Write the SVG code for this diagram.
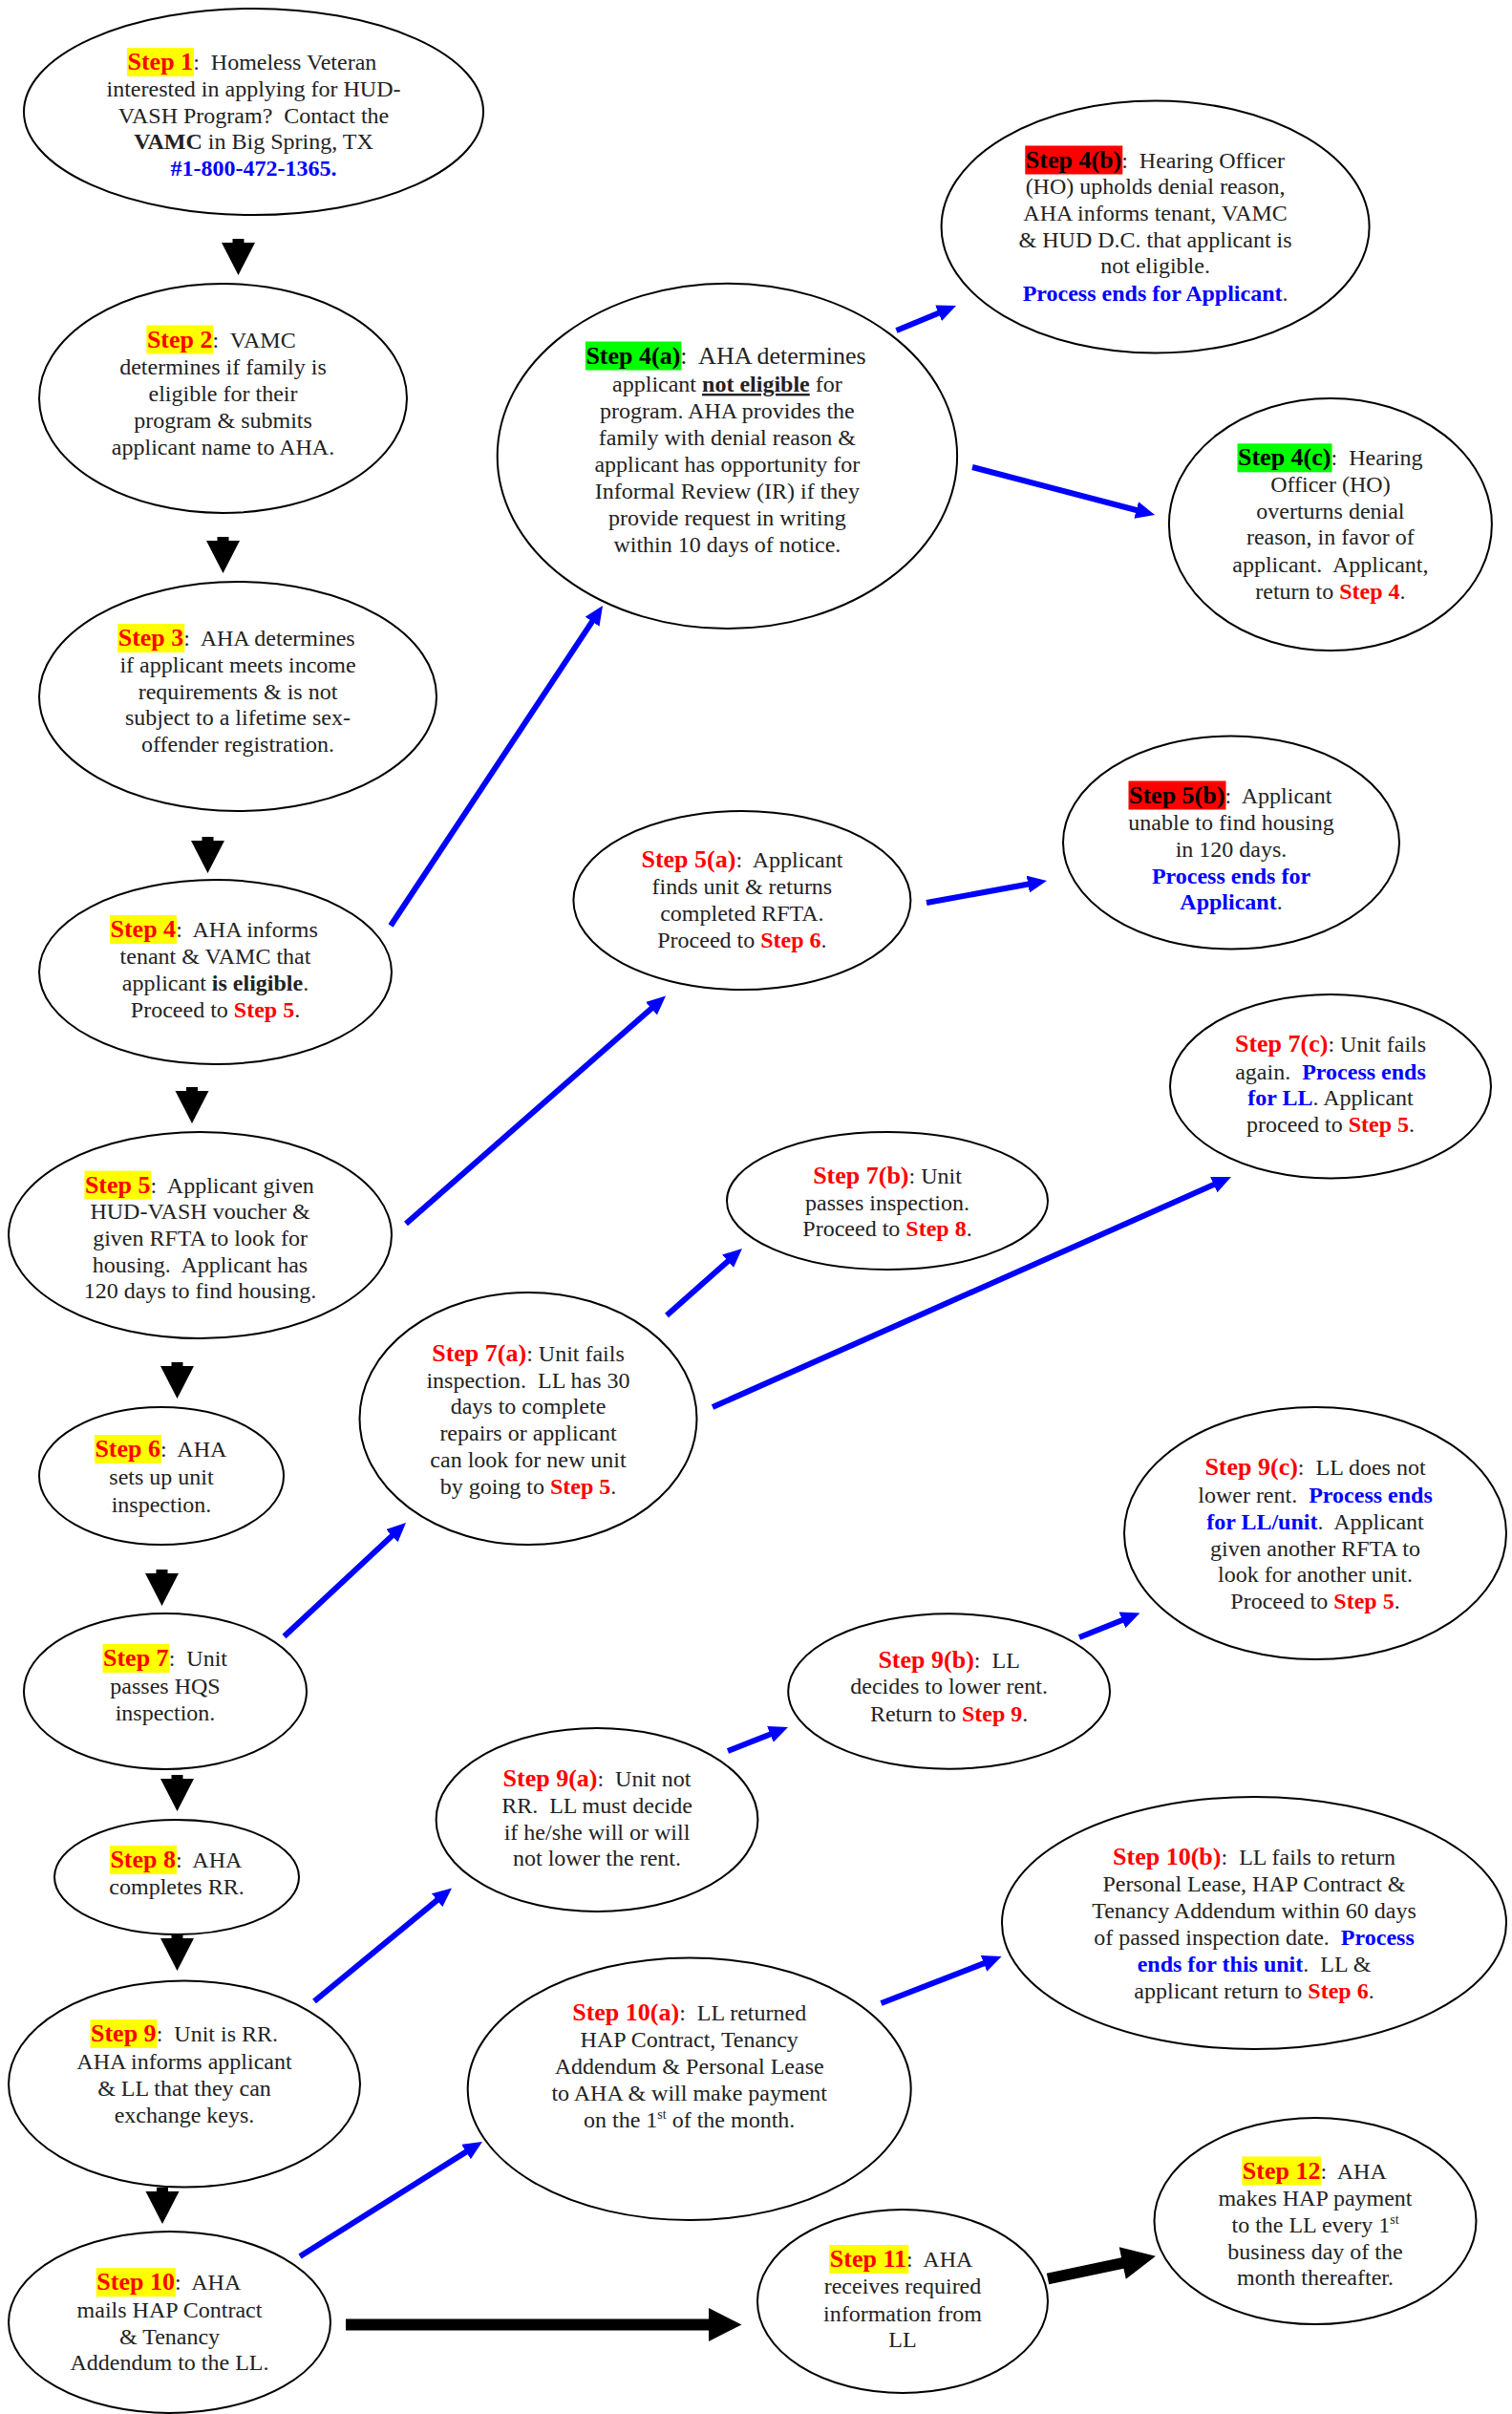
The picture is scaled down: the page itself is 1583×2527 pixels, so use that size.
<svg xmlns="http://www.w3.org/2000/svg" width="1583" height="2527" viewBox="0 0 1583 2527">
<style>
.n ellipse{fill:#fff;stroke:#000;stroke-width:2}
text{font-family:'Liberation Serif','Times New Roman',serif;font-size:24px;fill:#222;text-anchor:middle}
text.s{text-anchor:start}
.lb{font-weight:bold;fill:#f00;font-size:26px}
.lk{font-weight:bold;fill:#000;font-size:26px}
.big{font-size:26px}
.r{font-weight:bold;fill:#f00}
.b{font-weight:bold;fill:#00f}
.bd{font-weight:bold}
.sup{font-size:14px}
.hy{fill:#ff0}.hr{fill:#f00}.hg{fill:#0f0}
.c line{stroke:#00f;stroke-width:6}
.k{fill:#000}
</style>
<defs>
<marker id="ah" viewBox="0 0 20 18" refX="6" refY="9" markerWidth="20" markerHeight="18" markerUnits="userSpaceOnUse" orient="auto"><path d="M0,0 L20,9 L0,18 z" fill="#00f"/></marker>
<path id="dn" d="M-6,0 H6 V4 H17.5 L0,38 L-17.5,4 H-6 Z"/>
</defs>
<rect width="1583" height="2527" fill="#fff"/>

<g id="connectors">
<g class="c">
<line x1="409" y1="969" x2="623.3" y2="645.7" marker-end="url(#ah)"/>
<line x1="938.5" y1="346" x2="988.1" y2="325.4" marker-end="url(#ah)"/>
<line x1="1018" y1="489" x2="1195.5" y2="535.5" marker-end="url(#ah)"/>
<line x1="425" y1="1281" x2="686.5" y2="1051.7" marker-end="url(#ah)"/>
<line x1="970" y1="945" x2="1082.2" y2="924.5" marker-end="url(#ah)"/>
<line x1="297.5" y1="1713" x2="414.8" y2="1603.6" marker-end="url(#ah)"/>
<line x1="698" y1="1377" x2="766.5" y2="1316.3" marker-end="url(#ah)"/>
<line x1="746" y1="1473" x2="1276.2" y2="1237.7" marker-end="url(#ah)"/>
<line x1="329" y1="2095" x2="462.2" y2="1985.4" marker-end="url(#ah)"/>
<line x1="762" y1="1833" x2="812" y2="1813.2" marker-end="url(#ah)"/>
<line x1="1130" y1="1714" x2="1180.5" y2="1693.7" marker-end="url(#ah)"/>
<line x1="314" y1="2362" x2="493.1" y2="2249.4" marker-end="url(#ah)"/>
<line x1="922.5" y1="2097" x2="1035.6" y2="2053.1" marker-end="url(#ah)"/>
</g>
<g class="k">
<use href="#dn" x="249.5" y="250"/>
<use href="#dn" x="233.5" y="562"/>
<use href="#dn" x="217.5" y="876"/>
<use href="#dn" x="201" y="1138"/>
<use href="#dn" x="185.5" y="1426"/>
<use href="#dn" x="169.5" y="1643"/>
<use href="#dn" x="185.5" y="1858"/>
<use href="#dn" x="185.5" y="2025"/>
<use href="#dn" x="170" y="2290"/>
<polygon points="362,2427.5 742,2427.5 742,2416 776.5,2433.5 742,2451 742,2439.5 362,2439.5"/>
<polygon points="0,-5.8 80,-5.8 80,-17 115.4,0 80,17 80,5.8 0,5.8" transform="translate(1097,2385.5) rotate(-11.9)"/>
</g>
</g>

<g id="step1" class="n">
<ellipse cx="265.5" cy="117" rx="240.5" ry="108"/>
<rect class="hy" x="133" y="50" width="70" height="30"/>
<text class="s" x="133.5" y="73"><tspan class="lb">Step 1</tspan>:&#160; Homeless Veteran</text>
<text x="265.5" y="101">interested in applying for HUD-</text>
<text x="265.5" y="129">VASH Program?&#160; Contact the</text>
<text x="265.5" y="156"><tspan class="bd">VAMC</tspan> in Big Spring, TX</text>
<text x="265.5" y="184" class="b">#1-800-472-1365.</text>
</g>

<g id="step2" class="n">
<ellipse cx="233.5" cy="417" rx="192.5" ry="120"/>
<rect class="hy" x="153.4" y="340.5" width="70" height="30"/>
<text class="s" x="153.9" y="363.5"><tspan class="lb">Step 2</tspan>:&#160; VAMC</text>
<text x="233.5" y="391.5">determines if family is</text>
<text x="233.5" y="419.5">eligible for their</text>
<text x="233.5" y="447.5">program &amp; submits</text>
<text x="233.5" y="475.5">applicant name to AHA.</text>
</g>

<g id="step3" class="n">
<ellipse cx="249" cy="729" rx="208" ry="120"/>
<rect class="hy" x="123.2" y="653" width="70" height="30"/>
<text class="s" x="123.7" y="676"><tspan class="lb">Step 3</tspan>:&#160; AHA determines</text>
<text x="249" y="704">if applicant meets income</text>
<text x="249" y="731.5">requirements &amp; is not</text>
<text x="249" y="759">subject to a lifetime sex-</text>
<text x="249" y="787">offender registration.</text>
</g>

<g id="step4" class="n">
<ellipse cx="225.5" cy="1017.5" rx="184.5" ry="96.5"/>
<rect class="hy" x="115" y="958" width="70" height="30"/>
<text class="s" x="115.5" y="981"><tspan class="lb">Step 4</tspan>:&#160; AHA informs</text>
<text x="225.5" y="1009">tenant &amp; VAMC that</text>
<text x="225.5" y="1037">applicant <tspan class="bd">is eligible</tspan>.</text>
<text x="225.5" y="1065">Proceed to <tspan class="r">Step 5</tspan>.</text>
</g>

<g id="step4a" class="n">
<ellipse cx="761.4" cy="477.4" rx="240.7" ry="180.7"/>
<rect class="hg" x="612.9" y="357.5" width="100.5" height="30"/>
<text class="s" x="613.4" y="380.5"><tspan class="lk">Step 4(a)</tspan><tspan class="big">:&#160; AHA determines</tspan></text>
<text x="761.4" y="410">applicant <tspan class="bd" text-decoration="underline">not eligible</tspan> for</text>
<text x="761.4" y="438">program. AHA provides the</text>
<text x="761.4" y="465.5">family with denial reason &amp;</text>
<text x="761.4" y="493.5">applicant has opportunity for</text>
<text x="761.4" y="521.5">Informal Review (IR) if they</text>
<text x="761.4" y="549.5">provide request in writing</text>
<text x="761.4" y="577.5">within 10 days of notice.</text>
</g>

<g id="step4b" class="n">
<ellipse cx="1209.6" cy="237.5" rx="224" ry="132"/>
<rect class="hr" x="1073.3" y="152.5" width="102" height="30"/>
<text class="s" x="1073.8" y="175.5"><tspan class="lk">Step 4(b)</tspan>:&#160; Hearing Officer</text>
<text x="1209.6" y="203.2">(HO) upholds denial reason,</text>
<text x="1209.6" y="230.9">AHA informs tenant, VAMC</text>
<text x="1209.6" y="258.6">&amp; HUD D.C. that applicant is</text>
<text x="1209.6" y="286.2">not eligible.</text>
<text x="1209.6" y="314.6"><tspan class="b">Process ends for Applicant</tspan>.</text>
</g>

<g id="step4c" class="n">
<ellipse cx="1392.9" cy="549" rx="169" ry="132"/>
<rect class="hg" x="1295.5" y="464.3" width="99" height="30"/>
<text class="s" x="1296" y="487.3"><tspan class="lk">Step 4(c)</tspan>:&#160; Hearing</text>
<text x="1392.9" y="515">Officer (HO)</text>
<text x="1392.9" y="542.7">overturns denial</text>
<text x="1392.9" y="570.4">reason, in favor of</text>
<text x="1392.9" y="598.5">applicant.&#160; Applicant,</text>
<text x="1392.9" y="626.5">return to <tspan class="r">Step 4</tspan>.</text>
</g>

<g id="step5" class="n">
<ellipse cx="209.5" cy="1293" rx="200.5" ry="108"/>
<rect class="hy" x="88.4" y="1225.6" width="70" height="30"/>
<text class="s" x="88.9" y="1248.6"><tspan class="lb">Step 5</tspan>:&#160; Applicant given</text>
<text x="209.5" y="1276.3">HUD-VASH voucher &amp;</text>
<text x="209.5" y="1304">given RFTA to look for</text>
<text x="209.5" y="1331.7">housing.&#160; Applicant has</text>
<text x="209.5" y="1359.4">120 days to find housing.</text>
</g>

<g id="step5a" class="n">
<ellipse cx="776.9" cy="942.5" rx="176.5" ry="93.5"/>
<text x="776.9" y="907.5"><tspan class="lb">Step 5(a)</tspan>:&#160; Applicant</text>
<text x="776.9" y="936">finds unit &amp; returns</text>
<text x="776.9" y="963.5">completed RFTA.</text>
<text x="776.9" y="992">Proceed to <tspan class="r">Step 6</tspan>.</text>
</g>

<g id="step5b" class="n">
<ellipse cx="1289" cy="882" rx="176" ry="111.5"/>
<rect class="hr" x="1181.5" y="817.5" width="102" height="30"/>
<text class="s" x="1182" y="840.5"><tspan class="lk">Step 5(b)</tspan>:&#160; Applicant</text>
<text x="1289" y="869">unable to find housing</text>
<text x="1289" y="897">in 120 days.</text>
<text x="1289" y="924.5" class="b">Process ends for</text>
<text x="1289" y="952.2"><tspan class="b">Applicant</tspan>.</text>
</g>

<g id="step6" class="n">
<ellipse cx="169" cy="1545" rx="128" ry="72"/>
<rect class="hy" x="98.9" y="1502" width="70" height="30"/>
<text class="s" x="99.4" y="1525"><tspan class="lb">Step 6</tspan>:&#160; AHA</text>
<text x="169" y="1554">sets up unit</text>
<text x="169" y="1582.5">inspection.</text>
</g>

<g id="step7" class="n">
<ellipse cx="173" cy="1770.5" rx="148" ry="81.5"/>
<rect class="hy" x="107.5" y="1721" width="70" height="30"/>
<text class="s" x="108" y="1744"><tspan class="lb">Step 7</tspan>:&#160; Unit</text>
<text x="173" y="1773">passes HQS</text>
<text x="173" y="1801">inspection.</text>
</g>

<g id="step7a" class="n">
<ellipse cx="553" cy="1485" rx="176.5" ry="132"/>
<text x="553" y="1425"><tspan class="lb">Step 7(a)</tspan>: Unit fails</text>
<text x="553" y="1452.7">inspection.&#160; LL has 30</text>
<text x="553" y="1480.3">days to complete</text>
<text x="553" y="1508">repairs or applicant</text>
<text x="553" y="1535.7">can look for new unit</text>
<text x="553" y="1563.5">by going to <tspan class="r">Step 5</tspan>.</text>
</g>

<g id="step7b" class="n">
<ellipse cx="929" cy="1257" rx="168" ry="72"/>
<text x="929" y="1238.5"><tspan class="lb">Step 7(b)</tspan>: Unit</text>
<text x="929" y="1266.5">passes inspection.</text>
<text x="929" y="1294">Proceed to <tspan class="r">Step 8</tspan>.</text>
</g>

<g id="step7c" class="n">
<ellipse cx="1393" cy="1137.3" rx="168" ry="96.3"/>
<text x="1393" y="1101"><tspan class="lb">Step 7(c)</tspan>: Unit fails</text>
<text x="1393" y="1129.5">again.&#160; <tspan class="b">Process ends</tspan></text>
<text x="1393" y="1157"><tspan class="b">for LL</tspan>. Applicant</text>
<text x="1393" y="1185">proceed to <tspan class="r">Step 5</tspan>.</text>
</g>

<g id="step8" class="n">
<ellipse cx="185" cy="1965" rx="128" ry="60"/>
<rect class="hy" x="114.9" y="1932" width="70" height="30"/>
<text class="s" x="115.4" y="1955"><tspan class="lb">Step 8</tspan>:&#160; AHA</text>
<text x="185" y="1983">completes RR.</text>
</g>

<g id="step9" class="n">
<ellipse cx="193" cy="2181.5" rx="184" ry="108"/>
<rect class="hy" x="94.5" y="2114" width="70" height="30"/>
<text class="s" x="95" y="2137"><tspan class="lb">Step 9</tspan>:&#160; Unit is RR.</text>
<text x="193" y="2165.5">AHA informs applicant</text>
<text x="193" y="2193.5">&amp; LL that they can</text>
<text x="193" y="2222">exchange keys.</text>
</g>

<g id="step9a" class="n">
<ellipse cx="625" cy="1905" rx="168.4" ry="96"/>
<text x="625" y="1869.5"><tspan class="lb">Step 9(a)</tspan>:&#160; Unit not</text>
<text x="625" y="1897.5">RR.&#160; LL must decide</text>
<text x="625" y="1925.5">if he/she will or will</text>
<text x="625" y="1953.2">not lower the rent.</text>
</g>

<g id="step9b" class="n">
<ellipse cx="993.6" cy="1770.5" rx="168.4" ry="81.2"/>
<text x="993.6" y="1745.5"><tspan class="lb">Step 9(b)</tspan>:&#160; LL</text>
<text x="993.6" y="1773.2">decides to lower rent.</text>
<text x="993.6" y="1802">Return to <tspan class="r">Step 9</tspan>.</text>
</g>

<g id="step9c" class="n">
<ellipse cx="1377" cy="1605" rx="200" ry="132"/>
<text x="1377" y="1544"><tspan class="lb">Step 9(c)</tspan>:&#160; LL does not</text>
<text x="1377" y="1572.7">lower rent.&#160; <tspan class="b">Process ends</tspan></text>
<text x="1377" y="1601"><tspan class="b">for LL/unit</tspan>.&#160; Applicant</text>
<text x="1377" y="1628.7">given another RFTA to</text>
<text x="1377" y="1656.3">look for another unit.</text>
<text x="1377" y="1684">Proceed to <tspan class="r">Step 5</tspan>.</text>
</g>

<g id="step10" class="n">
<ellipse cx="177.5" cy="2431" rx="168.5" ry="95"/>
<rect class="hy" x="100.8" y="2374.2" width="83" height="30"/>
<text class="s" x="101.3" y="2397.2"><tspan class="lb">Step 10</tspan>:&#160; AHA</text>
<text x="177.5" y="2425.5">mails HAP Contract</text>
<text x="177.5" y="2453.5">&amp; Tenancy</text>
<text x="177.5" y="2481">Addendum to the LL.</text>
</g>

<g id="step10a" class="n">
<ellipse cx="721.7" cy="2186.7" rx="232" ry="137.3"/>
<text x="721.7" y="2115"><tspan class="lb">Step 10(a)</tspan>:&#160; LL returned</text>
<text x="721.7" y="2143">HAP Contract, Tenancy</text>
<text x="721.7" y="2170.8">Addendum &amp; Personal Lease</text>
<text x="721.7" y="2198.8">to AHA &amp; will make payment</text>
<text x="721.7" y="2226.5">on the 1<tspan class="sup" dy="-9">st</tspan><tspan dy="9"> of the month.</tspan></text>
</g>

<g id="step10b" class="n">
<ellipse cx="1313" cy="2013" rx="264" ry="132"/>
<text x="1313" y="1951.5"><tspan class="lb">Step 10(b)</tspan>:&#160; LL fails to return</text>
<text x="1313" y="1979.8">Personal Lease, HAP Contract &amp;</text>
<text x="1313" y="2008">Tenancy Addendum within 60 days</text>
<text x="1313" y="2035.8">of passed inspection date.&#160; <tspan class="b">Process</tspan></text>
<text x="1313" y="2063.7"><tspan class="b">ends for this unit</tspan>.&#160; LL &amp;</text>
<text x="1313" y="2091.5">applicant return to <tspan class="r">Step 6</tspan>.</text>
</g>

<g id="step11" class="n">
<ellipse cx="945" cy="2409" rx="152" ry="96"/>
<rect class="hy" x="868.3" y="2350" width="83" height="30"/>
<text class="s" x="868.8" y="2373"><tspan class="lb">Step 11</tspan>:&#160; AHA</text>
<text x="945" y="2401.3">receives required</text>
<text x="945" y="2429.6">information from</text>
<text x="945" y="2457.3">LL</text>
</g>

<g id="step12" class="n">
<ellipse cx="1377" cy="2325" rx="168.5" ry="108"/>
<rect class="hy" x="1300.3" y="2257.5" width="83" height="30"/>
<text class="s" x="1300.8" y="2280.5"><tspan class="lb">Step 12</tspan>:&#160; AHA</text>
<text x="1377" y="2309.2">makes HAP payment</text>
<text x="1377" y="2337.2">to the LL every 1<tspan class="sup" dy="-9">st</tspan></text>
<text x="1377" y="2364.7">business day of the</text>
<text x="1377" y="2392.2">month thereafter.</text>
</g>
</svg>
